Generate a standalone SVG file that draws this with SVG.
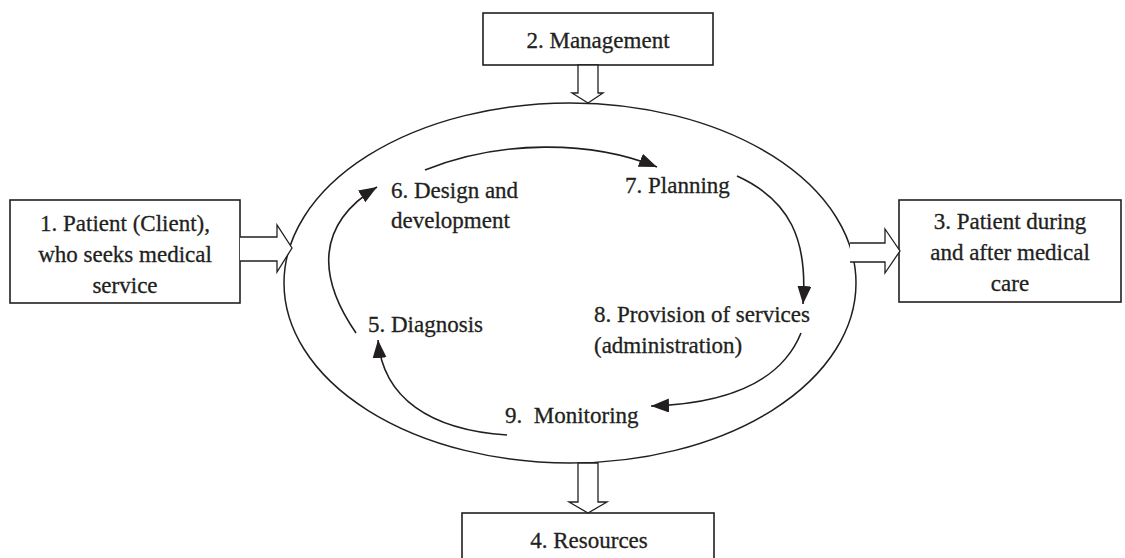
<svg xmlns="http://www.w3.org/2000/svg" width="1125" height="558" viewBox="0 0 1125 558">
  <style>
    .box { fill: #ffffff; stroke: #231f20; stroke-width: 1.6; }
    .blk { fill: #ffffff; stroke: #231f20; stroke-width: 1.3; stroke-linejoin: miter; }
    .ring { fill: none; stroke: #231f20; stroke-width: 1.5; }
    .flow { fill: none; stroke: #231f20; stroke-width: 1.6; marker-end: url(#tip); }
    .lbl { font-family: 'Liberation Serif', 'Times New Roman', serif; font-size: 23px; fill: #231f20; stroke: #231f20; stroke-width: 0.3; }
    .c { text-anchor: middle; }
  </style>
  <defs>
    <marker id="tip" markerUnits="userSpaceOnUse" markerWidth="20" markerHeight="16" refX="18" refY="7" orient="auto">
      <path d="M0,0 L18,7 L0,14 Z" fill="#231f20"/>
    </marker>
  </defs>

  <rect width="1125" height="558" fill="#ffffff"/>

  <!-- central process ellipse -->
  <g id="process">
    <ellipse class="ring" cx="570" cy="283" rx="286" ry="180"/>
  </g>

  <!-- outer boxes -->
  <g id="node-management">
    <rect class="box" x="483" y="13" width="230" height="52"/>
    <text class="lbl c" x="598" y="48">2. Management</text>
  </g>
  <g id="node-patient-in">
    <rect class="box" x="10" y="200" width="230" height="103"/>
    <text class="lbl c" x="125" y="231">1. Patient (Client),</text>
    <text class="lbl c" x="125" y="262">who seeks medical</text>
    <text class="lbl c" x="125" y="293">service</text>
  </g>
  <g id="node-patient-out">
    <rect class="box" x="899" y="200" width="222" height="102"/>
    <text class="lbl c" x="1010" y="229">3. Patient during</text>
    <text class="lbl c" x="1010" y="260">and after medical</text>
    <text class="lbl c" x="1010" y="291">care</text>
  </g>
  <g id="node-resources">
    <rect class="box" x="462" y="513" width="252" height="60"/>
    <text class="lbl c" x="589" y="548">4. Resources</text>
  </g>

  <!-- inner stages -->
  <g id="node-diagnosis"><text class="lbl" x="368" y="332">5. Diagnosis</text></g>
  <g id="node-design">
    <text class="lbl" x="391" y="198">6. Design and</text>
    <text class="lbl" x="391" y="228">development</text>
  </g>
  <g id="node-planning"><text class="lbl" x="625" y="193">7. Planning</text></g>
  <g id="node-provision">
    <text class="lbl" x="594" y="322">8. Provision of services</text>
    <text class="lbl" x="594" y="353">(administration)</text>
  </g>
  <g id="node-monitoring"><text class="lbl" x="505" y="423" xml:space="preserve">9.  Monitoring</text></g>

  <g id="connectors">
    <!-- block arrows -->
    <path class="blk" d="M578,65 L598,65 L598,93 L603,93 L588,103 L572,93 L578,93 Z"/>
    <path class="blk" d="M240,237 L277,237 L277,225 L292,248 L277,272 L277,261 L240,261"/>
    <path class="blk" d="M850,243 L885,243 L885,229 L900,251 L885,273 L885,262 L850,262"/>
    <path class="blk" d="M578,463 L598,463 L598,502 L607,502 L588,513 L569,502 L578,502 Z"/>

    <!-- cycle arrows -->
    <path class="flow" d="M425,170 C500,140 590,140 657,167"/>
    <path class="flow" d="M737,176 C790,200 808,240 803,304"/>
    <path class="flow" d="M801,333 C780,385 720,404 651,406"/>
    <path class="flow" d="M507,435 C430,430 383,398 378,340"/>
    <path class="flow" d="M356,333 C318,278 315,225 377,187"/>
  </g>
</svg>
